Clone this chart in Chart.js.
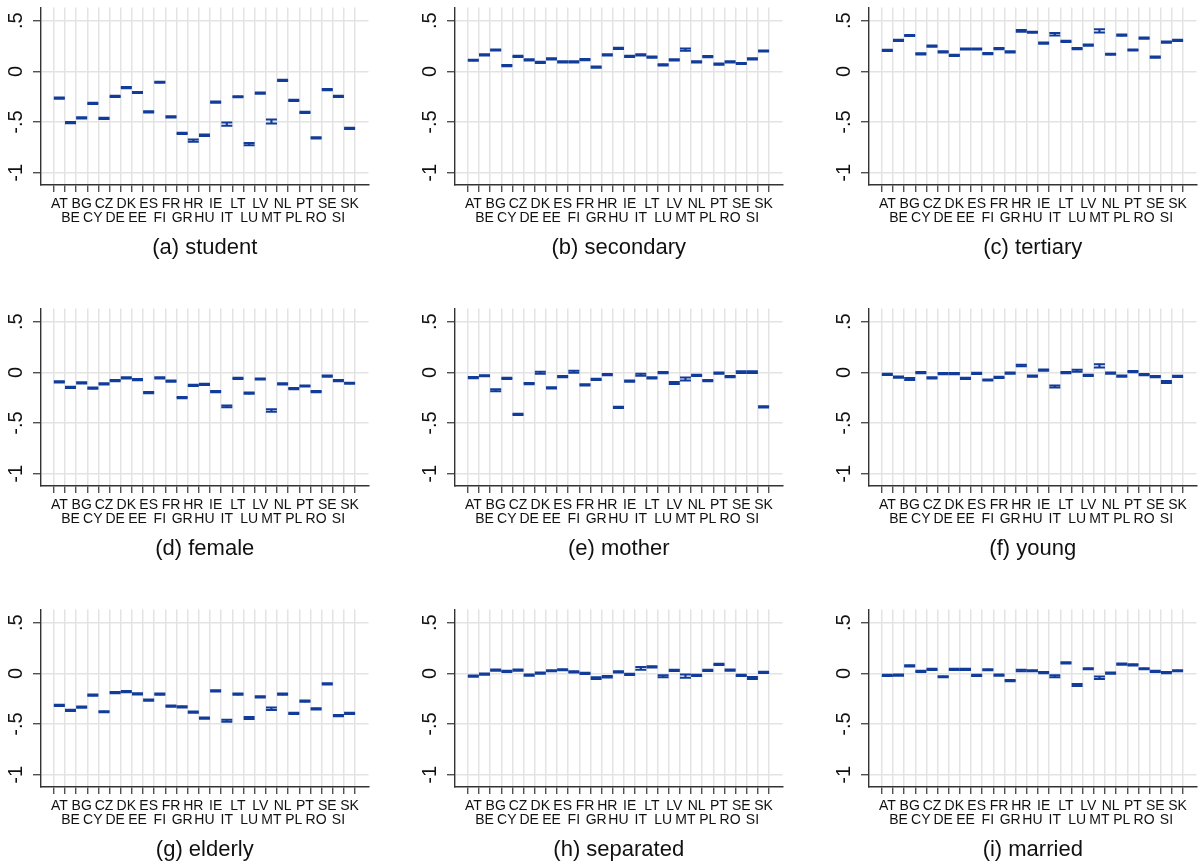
<!DOCTYPE html>
<html>
<head>
<meta charset="utf-8">
<script src="https://cdn.jsdelivr.net/npm/chart.js@4.4.1/dist/chart.umd.min.js"></script>
<style>
  html, body { margin: 0; padding: 0; background: #fff; }
  #wrap { position: relative; width: 1204px; height: 867px; overflow: hidden; background: #fff; }
  .panel { position: absolute; width: 376px; height: 265px; }
</style>
</head>
<body>
<div id="wrap"></div>
<script>
// Country codes along the x axis
const countries = ['AT','BE','BG','CY','CZ','DE','DK','EE','ES','FI','FR','GR','HR','HU',
                   'IE','IT','LT','LU','LV','MT','NL','PL','PT','RO','SE','SI','SK'];

// Y axis ticks and their printed labels
const yTickValues = [-1, -0.5, 0, 0.5];
const yTickLabels = ['-1', '-.5', '0', '.5'];

// Panel captions
const panelTitles = ['(a) student', '(b) secondary', '(c) tertiary',
                     '(d) female', '(e) mother', '(f) young',
                     '(g) elderly', '(h) separated', '(i) married'];

// Point estimates and confidence half-widths, one pair per panel
const student   = [-0.263,-0.506,-0.458,-0.315,-0.464,-0.247,-0.159,-0.208,-0.399,-0.107,-0.448,-0.610,-0.682,-0.630,
                   -0.302,-0.519,-0.250,-0.718,-0.214,-0.493,-0.088,-0.286,-0.403,-0.656,-0.179,-0.247,-0.562];
const studentCI = [0.006,0.006,0.006,0.006,0.006,0.006,0.006,0.006,0.006,0.006,0.006,0.006,0.011,0.007,
                   0.006,0.016,0.006,0.011,0.006,0.020,0.006,0.006,0.006,0.006,0.006,0.006,0.006];

const secondary   = [0.110,0.162,0.211,0.058,0.149,0.114,0.088,0.123,0.094,0.094,0.117,0.042,0.162,0.227,
                     0.149,0.162,0.140,0.065,0.114,0.214,0.094,0.146,0.071,0.094,0.078,0.123,0.201];
const secondaryCI = [0.006,0.006,0.006,0.006,0.006,0.006,0.006,0.006,0.006,0.006,0.006,0.006,0.006,0.006,
                     0.006,0.006,0.006,0.006,0.006,0.011,0.006,0.006,0.006,0.006,0.006,0.006,0.006];

const tertiary   = [0.208,0.305,0.354,0.172,0.250,0.192,0.159,0.221,0.221,0.175,0.224,0.192,0.399,0.386,
                    0.279,0.367,0.295,0.224,0.260,0.399,0.169,0.357,0.211,0.328,0.140,0.289,0.305];
const tertiaryCI = [0.006,0.006,0.006,0.006,0.006,0.006,0.006,0.006,0.006,0.006,0.006,0.006,0.008,0.006,
                    0.006,0.012,0.006,0.006,0.006,0.016,0.006,0.006,0.006,0.006,0.006,0.006,0.006];

const female   = [-0.094,-0.147,-0.104,-0.156,-0.114,-0.081,-0.055,-0.072,-0.199,-0.055,-0.085,-0.248,-0.127,-0.117,
                  -0.189,-0.335,-0.059,-0.205,-0.065,-0.375,-0.114,-0.160,-0.134,-0.189,-0.036,-0.081,-0.107];
const femaleCI = [0.006,0.006,0.006,0.006,0.006,0.006,0.006,0.006,0.006,0.006,0.006,0.006,0.006,0.006,
                  0.006,0.008,0.006,0.006,0.006,0.012,0.006,0.006,0.006,0.006,0.006,0.006,0.006];

const mother   = [-0.052,-0.033,-0.176,-0.059,-0.414,-0.111,-0.003,-0.153,-0.042,0.007,-0.124,-0.068,-0.023,-0.345,
                  -0.085,-0.023,-0.055,-0.003,-0.104,-0.065,-0.029,-0.081,-0.007,-0.042,0.003,0.003,-0.339];
const motherCI = [0.006,0.006,0.010,0.006,0.006,0.006,0.010,0.006,0.006,0.010,0.006,0.006,0.006,0.006,
                  0.006,0.010,0.006,0.006,0.010,0.015,0.006,0.006,0.006,0.006,0.008,0.008,0.006];

const young   = [-0.020,-0.046,-0.065,-0.003,-0.055,-0.013,-0.013,-0.059,-0.010,-0.075,-0.049,-0.007,0.068,-0.036,
                 0.023,-0.140,-0.003,0.016,-0.029,0.065,-0.007,-0.036,0.007,-0.023,-0.042,-0.094,-0.039];
const youngCI = [0.006,0.006,0.010,0.006,0.006,0.006,0.006,0.006,0.006,0.006,0.006,0.006,0.008,0.006,
                 0.006,0.010,0.006,0.010,0.006,0.016,0.006,0.006,0.006,0.006,0.006,0.010,0.006];

const elderly   = [-0.316,-0.365,-0.332,-0.215,-0.378,-0.189,-0.179,-0.202,-0.264,-0.205,-0.322,-0.329,-0.381,-0.440,
                   -0.173,-0.466,-0.205,-0.440,-0.231,-0.349,-0.205,-0.394,-0.274,-0.349,-0.104,-0.417,-0.394];
const elderlyCI = [0.006,0.006,0.006,0.006,0.006,0.006,0.006,0.006,0.006,0.006,0.006,0.006,0.006,0.006,
                   0.006,0.010,0.006,0.010,0.006,0.013,0.006,0.006,0.006,0.006,0.006,0.006,0.006];

const separated   = [-0.026,-0.007,0.033,0.020,0.033,-0.016,0.003,0.026,0.036,0.016,0.000,-0.046,-0.033,0.016,
                     -0.010,0.049,0.065,-0.029,0.029,-0.026,-0.020,0.029,0.088,0.033,-0.020,-0.046,0.010];
const separatedCI = [0.006,0.006,0.006,0.006,0.006,0.006,0.006,0.006,0.006,0.006,0.006,0.008,0.008,0.006,
                     0.006,0.013,0.006,0.010,0.006,0.016,0.006,0.006,0.006,0.006,0.006,0.010,0.006];

const married   = [-0.020,-0.016,0.075,0.020,0.039,-0.033,0.039,0.039,-0.020,0.036,-0.016,-0.072,0.029,0.026,
                   0.007,-0.029,0.104,-0.114,0.046,-0.042,0.003,0.091,0.085,0.046,0.020,0.007,0.026];
const marriedCI = [0.006,0.006,0.006,0.006,0.006,0.006,0.006,0.006,0.006,0.006,0.006,0.006,0.008,0.006,
                   0.006,0.010,0.006,0.010,0.006,0.012,0.006,0.006,0.006,0.006,0.006,0.006,0.006];

const panels = [
  { title: panelTitles[0], est: student,   ci: studentCI },
  { title: panelTitles[1], est: secondary, ci: secondaryCI },
  { title: panelTitles[2], est: tertiary,  ci: tertiaryCI },
  { title: panelTitles[3], est: female,    ci: femaleCI },
  { title: panelTitles[4], est: mother,    ci: motherCI },
  { title: panelTitles[5], est: young,     ci: youngCI },
  { title: panelTitles[6], est: elderly,   ci: elderlyCI },
  { title: panelTitles[7], est: separated, ci: separatedCI },
  { title: panelTitles[8], est: married,   ci: marriedCI }
];

const BLUE = '#123c9a';
const GRID = '#e3e3e3';
const AXIS = '#333333';
const COL_LEFT = [0, 414, 828];
const ROW_TOP = [0, 301, 602];

Chart.defaults.font.family = "'Liberation Sans', Arial, Helvetica, sans-serif";
Chart.defaults.color = '#111';

const wrap = document.getElementById('wrap');

panels.forEach((p, k) => {
  const box = document.createElement('div');
  box.className = 'panel';
  box.style.left = COL_LEFT[k % 3] + 'px';
  box.style.top = ROW_TOP[Math.floor(k / 3)] + 'px';
  const cv = document.createElement('canvas');
  cv.width = 376;
  cv.height = 265;
  box.appendChild(cv);
  wrap.appendChild(box);

  const lo = p.est.map((v, i) => v - p.ci[i]);
  const hi = p.est.map((v, i) => v + p.ci[i]);

  const capStyle = {
    pointStyle: 'line',
    pointRadius: 5.5,
    pointHoverRadius: 5.5,
    pointBorderColor: BLUE,
    pointBorderWidth: 2
  };

  new Chart(cv, {
    type: 'scatter',
    data: {
      datasets: [
        // vertical stem of each capped interval
        {
          type: 'bar',
          data: countries.map((c, i) => ({ x: i, y: [lo[i], hi[i]] })),
          backgroundColor: BLUE,
          borderWidth: 0,
          barThickness: 1.5
        },
        // lower cap
        Object.assign({ data: countries.map((c, i) => ({ x: i, y: lo[i] })) }, capStyle),
        // upper cap
        Object.assign({ data: countries.map((c, i) => ({ x: i, y: hi[i] })) }, capStyle)
      ]
    },
    options: {
      responsive: false,
      animation: false,
      devicePixelRatio: 1,
      events: [],
      layout: { padding: { top: 5, right: 3, bottom: 0, left: 0 } },
      plugins: { legend: { display: false }, tooltip: { enabled: false } },
      scales: {
        x: {
          type: 'linear',
          min: -1.1,
          max: 27.15,
          afterBuildTicks: s => { s.ticks = countries.map((c, i) => ({ value: i })); },
          afterFit: s => { s.height = 80; s.paddingLeft = 0; s.paddingRight = 0; },
          ticks: {
            autoSkip: false,
            maxRotation: 0,
            minRotation: 0,
            padding: 5,
            color: '#111',
            font: { size: 14, lineHeight: 1.0 },
            callback: (v, idx) => (idx % 2 === 0 ? [countries[idx], ''] : ['', countries[idx]])
          },
          grid: { color: GRID, lineWidth: 1.5, tickLength: 7, tickColor: AXIS, tickWidth: 1.2 },
          border: { color: AXIS, width: 1.4 },
          title: {
            display: true,
            text: p.title,
            color: '#111',
            font: { size: 22, lineHeight: 1.2 },
            padding: { top: 0, bottom: 4 }
          }
        },
        y: {
          type: 'linear',
          min: -1.12,
          max: 0.63,
          afterBuildTicks: s => { s.ticks = yTickValues.map(v => ({ value: v })); },
          afterFit: s => { s.width = 41; s.paddingTop = 0; s.paddingBottom = 0; },
          ticks: {
            minRotation: 90,
            maxRotation: 90,
            crossAlign: 'center',
            padding: 5,
            color: '#111',
            font: { size: 20 },
            callback: (v, idx) => yTickLabels[idx]
          },
          grid: { color: GRID, lineWidth: 1.5, tickLength: 8, tickColor: AXIS, tickWidth: 1.2 },
          border: { color: AXIS, width: 1.4 }
        }
      }
    }
  });
});
</script>
</body>
</html>
